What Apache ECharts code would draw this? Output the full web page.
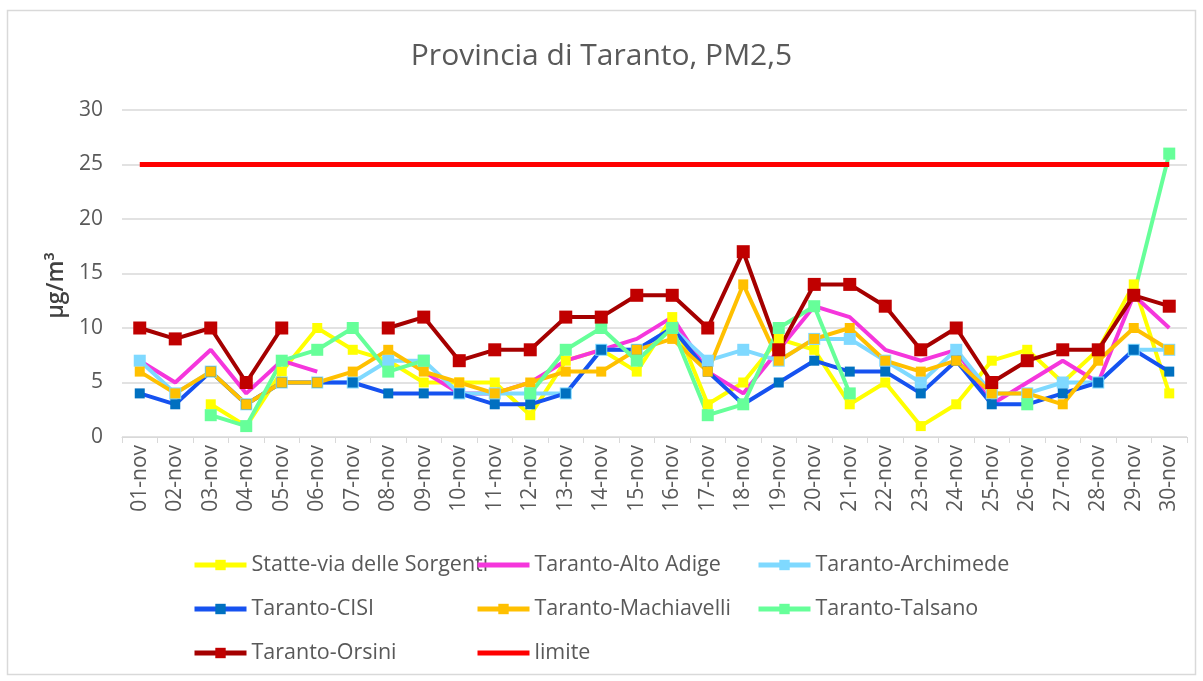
<!DOCTYPE html>
<html>
<head>
<meta charset="utf-8">
<script src="https://cdn.jsdelivr.net/npm/echarts@6/dist/echarts.min.js"></script>
<style>
  html, body { margin: 0; padding: 0; background: #fff; }
  #chart { width: 1203px; height: 681px; }
</style>
</head>
<body>
<div id="chart"></div>
<script>
const days = [
  "01-nov", "02-nov", "03-nov", "04-nov", "05-nov", "06-nov", "07-nov", "08-nov", "09-nov", "10-nov",
  "11-nov", "12-nov", "13-nov", "14-nov", "15-nov", "16-nov", "17-nov", "18-nov", "19-nov", "20-nov",
  "21-nov", "22-nov", "23-nov", "24-nov", "25-nov", "26-nov", "27-nov", "28-nov", "29-nov", "30-nov"
];

const statte = [null, null, 3, 1, 6, 10, 8, 7, 5, 5, 5, 2, 7, 8, 6, 11, 3, 5, 9, 8, 3, 5, 1, 3, 7, 8, 5, 8, 14, 4];
const altoAdige = [7, 5, 8, 4, 7, 6, null, null, 6, 4, 4, 5, 7, 8, 9, 11, 6, 4, 8, 12, 11, 8, 7, 8, 3, 5, 7, 5, 13, 10];
const archimede = [7, 4, 6, 3, 5, 5, 5, 7, 7, 4, 4, 4, 4, 8, 8, 10, 7, 8, 7, 9, 9, 7, 5, 8, 4, 4, 5, 5, 8, 8];
const cisi = [4, 3, 6, 3, 5, 5, 5, 4, 4, 4, 3, 3, 4, 8, 8, 10, 6, 3, 5, 7, 6, 6, 4, 7, 3, 3, 4, 5, 8, 6];
const machiavelli = [6, 4, 6, 3, 5, 5, 6, 8, 6, 5, 4, 5, 6, 6, 8, 9, 6, 14, 7, 9, 10, 7, 6, 7, 4, 4, 3, 7, 10, 8];
const talsano = [null, null, 2, 1, 7, 8, 10, 6, 7, null, null, 4, 8, 10, 7, 10, 2, 3, 10, 12, 4, null, null, null, null, 3, null, null, 13, 26];
const orsini = [10, 9, 10, 5, 10, null, null, 10, 11, 7, 8, 8, 11, 11, 13, 13, 10, 17, 8, 14, 14, 12, 8, 10, 5, 7, 8, 8, 13, 12];
const limite = [25, 25, 25, 25, 25, 25, 25, 25, 25, 25, 25, 25, 25, 25, 25, 25, 25, 25, 25, 25, 25, 25, 25, 25, 25, 25, 25, 25, 25, 25];

const yTicks = [0, 30, 5]; // min, max, step

const FONT = "Open Sans";
const GREY = "#595959";
// plain bar used as legend icon for the series drawn without markers
const BAR_ICON = "path://M0,0 L52,0 L52,5 L0,5 Z";

const chart = echarts.init(document.getElementById("chart"));

// one line series, markers are squares like in the spreadsheet
function line(name, data, lineColor, markColor, size, width) {
  return {
    name: name,
    type: "line",
    data: data,
    connectNulls: false,
    showAllSymbol: true,
    symbol: size ? "rect" : "none",
    symbolSize: size || 0,
    lineStyle: { width: width || 4, color: lineColor },
    itemStyle: { color: markColor },
    emphasis: { disabled: true }
  };
}

function legendCol(left, names) {
  return {
    orient: "vertical",
    left: left,
    top: 548,
    itemGap: 20,
    itemWidth: 52,
    itemHeight: 13,
    lineStyle: { width: 5 },
    data: names,
    textStyle: { fontFamily: FONT, fontSize: 21.5, lineHeight: 24, color: GREY }
  };
}

chart.setOption({
  animation: false,
  backgroundColor: "#fff",
  title: {
    text: "Provincia di Taranto, PM2,5",
    left: "center",
    top: 36,
    textStyle: { fontFamily: FONT, fontSize: 30, fontWeight: "normal", color: GREY }
  },
  graphic: [{
    type: "rect",
    shape: { x: 7.5, y: 10.5, width: 1188, height: 664 },
    style: { fill: null, stroke: "#d9d9d9", lineWidth: 1.5 },
    silent: true
  }],
  grid: { left: 122, right: 16, top: 110, bottom: 244 },
  xAxis: {
    type: "category",
    data: days,
    boundaryGap: true,
    axisLine: { lineStyle: { color: "#d9d9d9", width: 1 } },
    axisTick: { show: true, length: 6, lineStyle: { color: "#d9d9d9" } },
    axisLabel: { rotate: 90, interval: 0, margin: 8, fontFamily: FONT, fontSize: 21, color: GREY }
  },
  yAxis: {
    type: "value",
    min: yTicks[0],
    max: yTicks[1],
    interval: yTicks[2],
    name: "µg/m³",
    nameLocation: "middle",
    nameRotate: 90,
    nameGap: 50,
    nameTextStyle: { fontFamily: FONT, fontSize: 23, fontWeight: 600, color: "#404040", padding: [0, 24, 0, 0] },
    axisLine: { show: false },
    axisTick: { show: false },
    axisLabel: { margin: 19, fontFamily: FONT, fontSize: 21, color: GREY },
    splitLine: { lineStyle: { color: "#d9d9d9", width: 1.5 } }
  },
  legend: [
    legendCol(187, ["Statte-via delle Sorgenti", "Taranto-CISI", "Taranto-Orsini"]),
    legendCol(470, [{ name: "Taranto-Alto Adige", icon: BAR_ICON }, "Taranto-Machiavelli", { name: "limite", icon: BAR_ICON }]),
    legendCol(751, ["Taranto-Archimede", "Taranto-Talsano"])
  ],
  series: [
    line("Statte-via delle Sorgenti", statte, "#FFFF00", "#FFFF00", 10),
    line("Taranto-Alto Adige", altoAdige, "#F536DC", "#F536DC", 0),
    line("Taranto-Archimede", archimede, "#7FD9FF", "#7FD9FF", 12),
    line("Taranto-CISI", cisi, "#1652F0", "#0070C0", 10),
    line("Taranto-Machiavelli", machiavelli, "#FFC000", "#FFC000", 10),
    line("Taranto-Talsano", talsano, "#66FF99", "#66FF99", 12),
    line("Taranto-Orsini", orsini, "#A50000", "#C00000", 13),
    line("limite", limite, "#FF0000", "#FF0000", 0, 5)
  ]
});
</script>
</body>
</html>
